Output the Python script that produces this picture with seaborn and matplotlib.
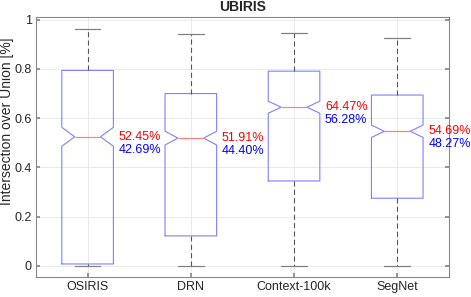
import numpy as np
import matplotlib
matplotlib.use("Agg")
import matplotlib.pyplot as plt
import seaborn as sns

# ---- data ----
methods = ["OSIRIS", "DRN", "Context-100k", "SegNet"]
whisker_low = [0.0, 0.0, 0.0, 0.0]
q1 = [0.008, 0.122, 0.345, 0.275]
median = [0.5245, 0.5191, 0.6447, 0.5469]
q3 = [0.794, 0.700, 0.791, 0.694]
whisker_high = [0.962, 0.942, 0.946, 0.925]
notch_low = [0.486, 0.491, 0.620, 0.522]
notch_high = [0.563, 0.547, 0.669, 0.572]
median_labels = ["52.45%", "51.91%", "64.47%", "54.69%"]
mean_labels = ["42.69%", "44.40%", "56.28%", "48.27%"]
yticks = [0, 0.2, 0.4, 0.6, 0.8, 1.0]
ytick_labels = ["0", "0.2", "0.4", "0.6", "0.8", "1"]

sns.set_theme(style="whitegrid")
plt.rcParams["font.family"] = ["Liberation Sans", "DejaVu Sans"]

fig = plt.figure(figsize=(4.71, 2.97), dpi=100)
ax = fig.add_axes([0.0764, 0.0673, 0.8766, 0.8755])

stats = []
for i, m in enumerate(methods):
    stats.append(dict(label=m, med=median[i], q1=q1[i], q3=q3[i],
                      whislo=whisker_low[i], whishi=whisker_high[i],
                      cilo=notch_low[i], cihi=notch_high[i], fliers=[]))

positions = np.arange(1, len(methods) + 1)
ax.bxp(stats, positions=positions, widths=0.5, shownotches=True, showfliers=False,
       capwidths=0.25, manage_ticks=False,
       boxprops=dict(color="#8080ff", linewidth=0.8),
       medianprops=dict(color="#ff8080", linewidth=0.9),
       whiskerprops=dict(color="#555555", linewidth=0.8, linestyle=(0, (4.5, 3))),
       capprops=dict(color="#808080", linewidth=0.9))

for i, p in enumerate(positions):
    ax.annotate(median_labels[i], (p + 0.3, median[i]), xytext=(0, 0),
                textcoords="offset points", color="red", fontsize=9,
                ha="left", va="center")
    ax.annotate(mean_labels[i], (p + 0.3, median[i]), xytext=(0, -9.5),
                textcoords="offset points", color="blue", fontsize=9,
                ha="left", va="center")

ax.set_xlim(0.5, 4.5)
ax.set_ylim(-0.045, 1.011)
ax.set_xticks(positions)
ax.set_xticklabels(methods, fontsize=9, color="#262626")
ax.set_yticks(yticks)
ax.set_yticklabels(ytick_labels, fontsize=9, color="#262626")
ax.set_ylabel("Intersection over Union [%]", fontsize=10, color="#262626")
ax.yaxis.set_label_coords(-0.054, 0.60)
ax.set_title("UBIRIS", fontsize=10, fontweight="bold", pad=4)

ax.set_facecolor("white")
ax.grid(True, color="#e6e6e6", linewidth=0.6)
for s in ax.spines.values():
    s.set_color("#888888")
    s.set_linewidth(0.8)
ax.tick_params(axis="both", direction="in", length=3, color="#888888",
               right=True, left=True, bottom=True, pad=3)

fig.savefig("out.png", dpi=100)
